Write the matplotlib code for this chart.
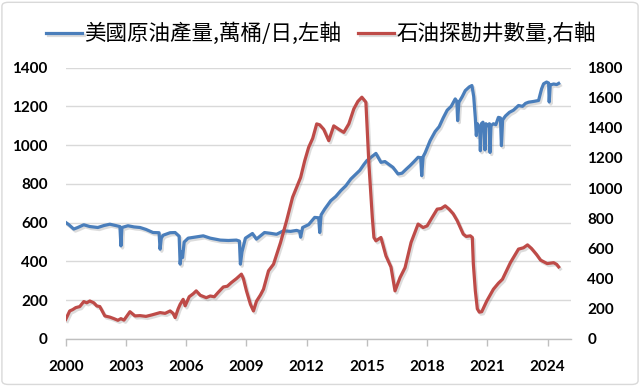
import matplotlib
matplotlib.use("Agg")
import matplotlib.pyplot as plt
from matplotlib import patheffects as pe
from matplotlib.patches import FancyBboxPatch

# ---------------- data ----------------
prod_years = [
    2000.00, 2000.15, 2000.40, 2000.60, 2000.90, 2001.20, 2001.60, 2001.90, 2002.20, 2002.50,
    2002.70, 2002.75, 2002.80, 2003.10, 2003.40, 2003.70, 2004.00, 2004.35, 2004.65, 2004.70,
    2004.76, 2004.85, 2005.20, 2005.45, 2005.65, 2005.70, 2005.76, 2005.82, 2005.90, 2006.10,
    2006.40, 2006.85, 2007.20, 2007.70, 2008.10, 2008.50, 2008.65, 2008.70, 2008.78, 2008.95,
    2009.30, 2009.50, 2009.90, 2010.20, 2010.50, 2010.85, 2011.20, 2011.50, 2011.65, 2011.70,
    2011.80, 2012.10, 2012.40, 2012.60, 2012.65, 2012.72, 2012.90, 2013.20, 2013.45, 2013.70,
    2013.95, 2014.20, 2014.45, 2014.65, 2014.85, 2015.00, 2015.30, 2015.45, 2015.70, 2015.90,
    2016.10, 2016.30, 2016.55, 2016.75, 2016.95, 2017.15, 2017.35, 2017.55, 2017.68, 2017.73,
    2017.80, 2017.90, 2018.15, 2018.40, 2018.60, 2018.80, 2019.00, 2019.20, 2019.40, 2019.48,
    2019.52, 2019.58, 2019.75, 2019.90, 2020.10, 2020.23, 2020.32, 2020.40, 2020.45, 2020.50,
    2020.55, 2020.62, 2020.65, 2020.70, 2020.78, 2020.84, 2020.88, 2020.93, 2021.00, 2021.10,
    2021.13, 2021.18, 2021.30, 2021.42, 2021.55, 2021.65, 2021.70, 2021.76, 2021.90, 2022.10,
    2022.30, 2022.55, 2022.75, 2022.90, 2023.05, 2023.30, 2023.55, 2023.70, 2023.80, 2023.95,
    2024.05, 2024.08, 2024.13, 2024.30, 2024.45, 2024.55,
]
prod_values = [
    601, 590, 567, 575, 589, 580, 575, 585, 592, 585,
    580, 480, 575, 584, 578, 575, 565, 549, 548, 463,
    520, 535, 548, 549, 530, 386, 450, 420, 500, 520,
    525, 532, 520, 510, 508, 510, 505, 386, 450, 520,
    544, 515, 549, 545, 540, 558, 555, 560, 555, 525,
    575, 590, 627, 625, 549, 640, 670, 713, 735, 765,
    790, 825, 850, 870, 900, 920, 945, 957, 911, 915,
    900, 885, 851, 855, 875, 894, 915, 937, 935, 842,
    940, 960, 1023, 1070, 1095, 1140, 1180, 1200, 1238, 1225,
    1126, 1220, 1250, 1281, 1300, 1307, 1250, 1140, 1049, 1110,
    1100, 1090, 971, 1110, 1118, 1080, 975, 1110, 1100, 1110,
    962, 1100, 1110, 1105, 1143, 1140, 997, 1130, 1150, 1169,
    1180, 1204, 1200, 1215, 1221, 1225, 1230, 1290, 1316, 1325,
    1320, 1222, 1310, 1315, 1312, 1318,
]

rig_years = [
    2000.00, 2000.20, 2000.35, 2000.50, 2000.70, 2000.90, 2001.05, 2001.20, 2001.40, 2001.55,
    2001.70, 2001.95, 2002.20, 2002.40, 2002.60, 2002.75, 2002.90, 2003.20, 2003.45, 2003.70,
    2004.00, 2004.30, 2004.70, 2004.95, 2005.20, 2005.35, 2005.45, 2005.60, 2005.70, 2005.85,
    2005.95, 2006.15, 2006.35, 2006.50, 2006.70, 2007.00, 2007.20, 2007.40, 2007.60, 2007.85,
    2008.05, 2008.25, 2008.50, 2008.75, 2008.85, 2009.00, 2009.20, 2009.35, 2009.50, 2009.70,
    2009.85, 2010.10, 2010.35, 2010.70, 2011.00, 2011.30, 2011.70, 2011.90, 2012.10, 2012.30,
    2012.50, 2012.65, 2012.85, 2013.10, 2013.35, 2013.55, 2013.70, 2013.85, 2014.10, 2014.35,
    2014.55, 2014.75, 2014.95, 2015.10, 2015.27, 2015.35, 2015.45, 2015.55, 2015.70, 2015.95,
    2016.20, 2016.40, 2016.65, 2016.90, 2017.20, 2017.55, 2017.80, 2018.00, 2018.25, 2018.50,
    2018.70, 2018.90, 2019.10, 2019.30, 2019.50, 2019.80, 2019.95, 2020.15, 2020.25, 2020.30,
    2020.40, 2020.50, 2020.60, 2020.72, 2020.97, 2021.30, 2021.55, 2021.75, 2022.15, 2022.55,
    2022.80, 2023.00, 2023.20, 2023.45, 2023.65, 2023.98, 2024.30, 2024.45, 2024.55,
]
rig_values = [
    130, 186, 195, 208, 215, 248, 240, 252, 240, 219,
    215, 153, 145, 135, 124, 135, 125, 181, 153, 155,
    150, 160, 175, 170, 186, 170, 142, 200, 230, 263,
    220, 280, 300, 319, 290, 274, 285, 280, 310, 345,
    350, 374, 400, 430, 400, 320, 230, 186, 250, 292,
    330, 452, 496, 640, 784, 940, 1071, 1180, 1271, 1330,
    1426, 1420, 1390, 1315, 1413, 1395, 1382, 1370, 1426, 1526,
    1575, 1603, 1570, 1160, 806, 673, 651, 660, 673, 551,
    477, 319, 407, 473, 640, 762, 739, 750, 806, 861,
    865, 883, 860, 830, 784, 695, 680, 684, 673, 500,
    320, 200, 178, 181, 252, 330, 370, 396, 507, 596,
    605, 624, 600, 560, 523, 500, 506, 495, 478,
]

x_ticks = [2000, 2003, 2006, 2009, 2012, 2015, 2018, 2021, 2024]
left_ticks = [0, 200, 400, 600, 800, 1000, 1200, 1400]
right_ticks = [0, 200, 400, 600, 800, 1000, 1200, 1400, 1600, 1800]
label_prod = "美國原油產量,萬桶/日,左軸"
label_rig = "石油探勘井數量,右軸"

# ---------------- figure ----------------
W, H = 640, 386
fig = plt.figure(figsize=(W / 100, H / 100), dpi=100)
fig.patch.set_facecolor("white")

# outer light border
border = FancyBboxPatch((0.003, 0.004), 0.994, 0.99, boxstyle="round,pad=0,rounding_size=0.01",
                        transform=fig.transFigure, fill=False, edgecolor="#d9d9d9", linewidth=1.0)
fig.patches.append(border)

x0, x1, ytop, ybot = 65.7, 570.7, 67.5, 339.0
ax = fig.add_axes([x0 / W, 1 - ybot / H, (x1 - x0) / W, (ybot - ytop) / H])
ax2 = ax.twinx()

tick_font = dict(family=["Lato", "DejaVu Sans"], weight="bold", size=11)
blue = "#4a7ebb"
red = "#be4b48"
shadow = [pe.SimpleLineShadow(offset=(1.2, -1.5), shadow_color="#777777", alpha=0.25), pe.Normal()]

l1, = ax.plot(prod_years, prod_values, color=blue, lw=2.3, solid_joinstyle="round",
              path_effects=shadow, label=label_prod)
l2, = ax2.plot(rig_years, rig_values, color=red, lw=2.3, solid_joinstyle="round",
               path_effects=shadow, label=label_rig)

ax.set_xlim(2000, 2025.15)
ax.set_ylim(0, 1400)
ax2.set_ylim(0, 1800)

ax.set_yticks(left_ticks)
ax2.set_yticks(right_ticks)
ax.set_xticks(x_ticks)
ax.set_xticklabels([str(t) for t in x_ticks], **tick_font)
ax.set_yticklabels([str(t) for t in left_ticks], **tick_font)
ax2.set_yticklabels([str(t) for t in right_ticks], **tick_font)

ax.grid(axis="y", color="#d9d9d9", linewidth=1.0)
ax.set_axisbelow(True)
for a in (ax, ax2):
    for s in ("top", "left", "right"):
        a.spines[s].set_visible(False)
    a.spines["bottom"].set_visible(False)
    a.patch.set_visible(False)
ax.spines["bottom"].set_visible(True)
ax.spines["bottom"].set_color("#bfbfbf")
ax.spines["bottom"].set_linewidth(1.0)

ax.tick_params(axis="x", length=5, width=1.0, color="#bfbfbf", pad=10, labelcolor="black")
ax.tick_params(axis="y", length=0, pad=13, labelcolor="black")
ax2.tick_params(axis="y", length=0, pad=12, labelcolor="black")

fig.legend(handles=[l1, l2], loc="center", bbox_to_anchor=(321 / W, 1 - 34 / H), ncol=2,
           frameon=False, prop=dict(family=["Noto Sans CJK TC", "DejaVu Sans"], size=15.5),
           handlelength=1.65, handletextpad=0.1, columnspacing=0.8, borderaxespad=0,
           borderpad=0)

fig.savefig("out.png", dpi=100, facecolor="white")
